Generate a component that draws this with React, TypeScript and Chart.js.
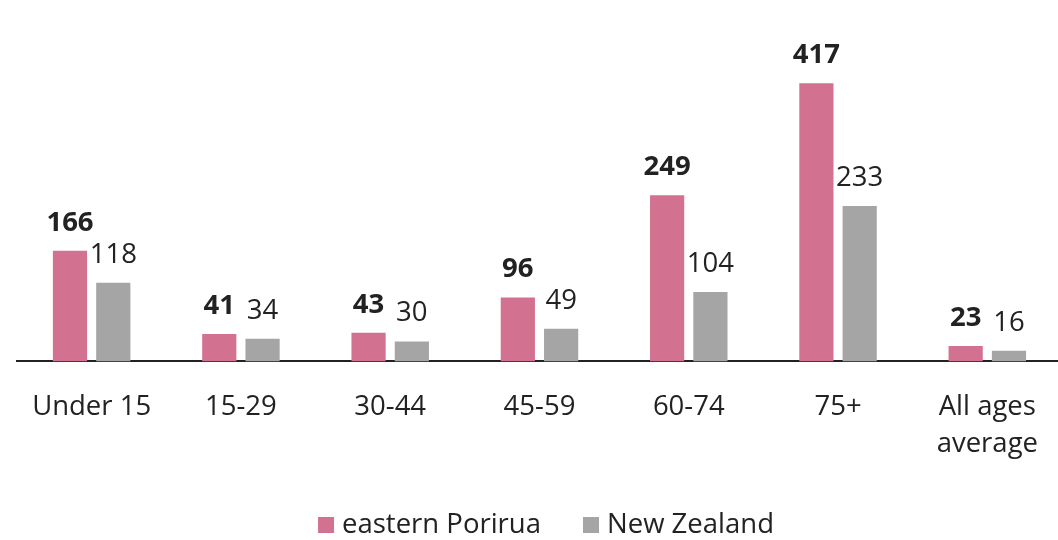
import React, { useEffect, useRef } from "react";
import { Chart, registerables } from "chart.js";

Chart.register(...registerables);

const categories: (string | string[])[] = ["Under 15", "15-29", "30-44", "45-59", "60-74", "75+", ["All ages", "average"]];
const easternPorirua = [166, 41, 43, 96, 249, 417, 23];
const newZealand = [118, 34, 30, 49, 104, 233, 16];
const seriesNames = ["eastern Porirua", "New Zealand"];
const seriesColors = ["#D37290", "#A5A5A5"];

const FONT = "'Open Sans', 'Noto Sans', sans-serif";
const FS = 27.5;

const valueLabels = {
  id: "valueLabels",
  afterDatasetsDraw(chart: any) {
    const ctx = chart.ctx;
    ctx.save();
    ctx.textAlign = "center";
    ctx.textBaseline = "middle";
    ctx.fillStyle = "#222222";
    chart.data.datasets.forEach((ds: any, di: number) => {
      const meta = chart.getDatasetMeta(di);
      ctx.font = (di === 0 ? "bold " : "") + FS + "px " + FONT;
      meta.data.forEach((bar: any, i: number) => {
        ctx.fillText(String(ds.data[i]), bar.x, bar.y - 28);
      });
    });
    ctx.restore();
  },
};

const customLegend = {
  id: "customLegend",
  afterDraw(chart: any) {
    const ctx = chart.ctx;
    ctx.save();
    ctx.font = FS + "px " + FONT;
    ctx.textBaseline = "middle";
    ctx.textAlign = "left";
    const box = 16, gapText = 8, gapItem = 42;
    const widths = chart.data.datasets.map((ds: any) => ctx.measureText(ds.label).width);
    let total = 0;
    widths.forEach((w: number, i: number) => {
      total += box + gapText + w + (i < widths.length - 1 ? gapItem : 0);
    });
    let x = 546 - total / 2;
    const cy = 525;
    chart.data.datasets.forEach((ds: any, i: number) => {
      ctx.fillStyle = ds.backgroundColor;
      ctx.fillRect(x, cy - box / 2, box, box);
      x += box + gapText;
      ctx.fillStyle = "#222222";
      ctx.fillText(ds.label, x, cy);
      x += widths[i] + gapItem;
    });
    ctx.restore();
  },
};

export default function App() {
  const ref = useRef<HTMLCanvasElement | null>(null);
  useEffect(() => {
    document.body.style.margin = "0";
    document.body.style.overflow = "hidden";
    const chart = new Chart(ref.current!, {
      type: "bar",
      data: {
        labels: categories,
        datasets: [
          { label: seriesNames[0], data: easternPorirua, backgroundColor: seriesColors[0] },
          { label: seriesNames[1], data: newZealand, backgroundColor: seriesColors[1] },
        ],
      },
      options: {
        animation: false,
        responsive: false,
        maintainAspectRatio: false,
        layout: { padding: { top: 0, left: 17, right: 0, bottom: 50 } },
        datasets: { bar: { categoryPercentage: 0.58, barPercentage: 0.79 } } as any,
        plugins: {
          legend: { display: false },
          tooltip: { enabled: false },
        },
        scales: {
          x: {
            grid: { display: false, drawTicks: false },
            border: { display: true, color: "#222222", width: 2 },
            ticks: {
              font: { family: FONT, size: FS, lineHeight: 1.32 },
              color: "#222222",
              padding: 28,
              maxRotation: 0,
              autoSkip: false,
            },
          },
          y: {
            display: false,
            min: 0,
            max: 542,
          },
        },
      },
      plugins: [valueLabels, customLegend],
    });
    return () => chart.destroy();
  }, []);
  return (
    <div style={{ width: 1058, height: 540, overflow: "hidden" }}>
      <canvas ref={ref} width={1066} height={540} style={{ display: "block" }} />
    </div>
  );
}
